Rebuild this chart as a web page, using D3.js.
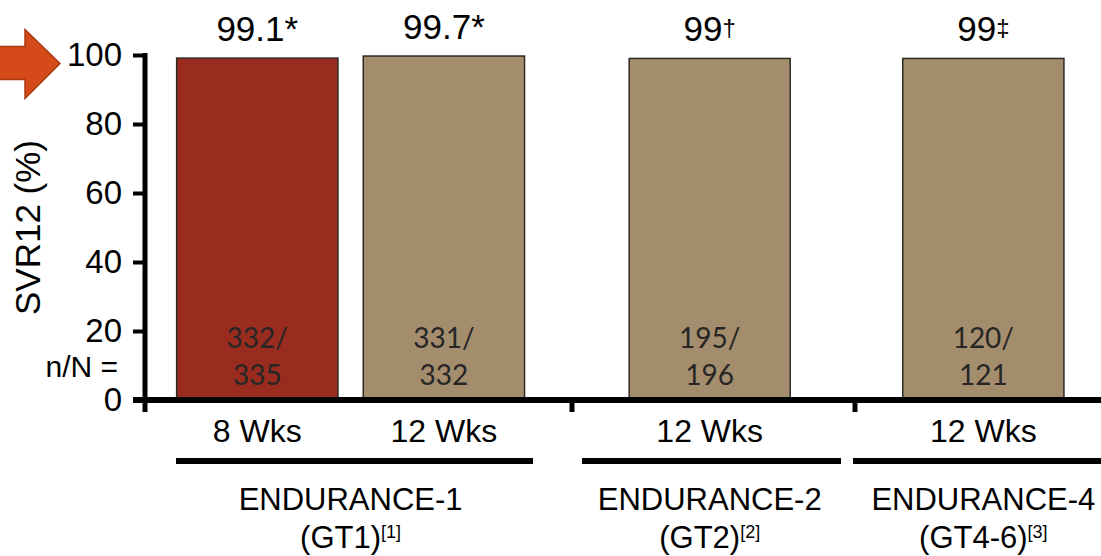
<!DOCTYPE html>
<html>
<head>
<meta charset="utf-8">
<script src="https://cdn.jsdelivr.net/npm/d3@7/dist/d3.min.js"></script>
<style>
  html, body { margin: 0; padding: 0; background: #fff; }
  svg { display: block; }
  text { font-family: "Liberation Sans", Arial, sans-serif; fill: #000; }
</style>
</head>
<body>
<svg id="chart" width="1101" height="556"></svg>
<script>
// ---- data ----
const studies    = ["ENDURANCE-1", "ENDURANCE-2", "ENDURANCE-4"];
const genotypes  = ["GT1", "GT2", "GT4-6"];
const references = ["1", "2", "3"];
const durations  = ["8 Wks", "12 Wks", "12 Wks", "12 Wks"];
const barStudy   = [0, 0, 1, 2];
const svr12      = [99.1, 99.7, 99, 99];
const footnotes  = ["*", "*", "\u2020", "\u2021"];
const responders = [332, 331, 195, 120];
const totals     = [335, 332, 196, 121];
const yTicks     = [0, 20, 40, 60, 80, 100];

// ---- layout ----
const W = 1101, H = 556;
const axisX = 145;
const groupLayout = [
  { x0: 145, x1: 572,  padInner: 0.1356, padOuter: 0.212, align: 0.40,  line: [176, 533] },
  { x0: 572, x1: 855,  padInner: 0,      padOuter: 0.379, align: 0.469, line: [582, 841] },
  { x0: 855, x1: 1101, padInner: 0,      padOuter: 0.263, align: 0.563, line: [853, 1101] }
];
const colors = ["#992b1f", "#a48d6c", "#a48d6c", "#a48d6c"];

const svg = d3.select("#chart");

const y = d3.scaleLinear().domain([0, 100]).range([400, 55]);

// one band scale per study, each spanning its own stretch of the x axis
const bands = groupLayout.map((g, gi) =>
  d3.scaleBand()
    .domain(d3.range(svr12.length).filter(i => barStudy[i] === gi))
    .range([g.x0, g.x1])
    .paddingInner(g.padInner)
    .paddingOuter(g.padOuter)
    .align(g.align)
);
const barX = i => bands[barStudy[i]](i);
const barW = i => bands[barStudy[i]].bandwidth();
const barC = i => barX(i) + barW(i) / 2;

// ---- bars ----
const idx = d3.range(svr12.length);
svg.append("g").selectAll("rect").data(idx).join("rect")
  .attr("x", barX)
  .attr("y", i => y(svr12[i]))
  .attr("width", barW)
  .attr("height", i => y(0) - y(svr12[i]))
  .attr("fill", i => colors[i])
  .attr("stroke", "#2e2a24")
  .attr("stroke-width", 1.5);

// value labels above the bars
const vl = svg.append("g").selectAll("text").data(idx).join("text")
  .attr("x", barC)
  .attr("y", i => y(svr12[i]) - 17)
  .attr("text-anchor", "middle")
  .style("font-size", "35px");
vl.append("tspan").text(i => String(svr12[i]));
vl.append("tspan")
  .text(i => footnotes[i])
  .style("font-size", i => footnotes[i] === "*" ? "35px" : "24px")
  .attr("dy", i => footnotes[i] === "*" ? 0 : -5);

// n/N inside the bars
const nl = svg.append("g").selectAll("text").data(idx).join("text")
  .attr("text-anchor", "middle")
  .style("font-family", "Lato, 'Open Sans', sans-serif")
  .style("font-size", "28px")
  .style("fill", "#262626");
nl.append("tspan").attr("x", barC).attr("y", 348).text(i => responders[i] + "/");
nl.append("tspan").attr("x", barC).attr("y", 385).text(i => totals[i]);

svg.append("text")
  .attr("x", 118).attr("y", 377)
  .attr("text-anchor", "end")
  .style("font-size", "30px")
  .text("n/N =");

// ---- y axis ----
const yAxis = svg.append("g")
  .attr("transform", `translate(${axisX},0)`)
  .call(d3.axisLeft(y).tickValues(yTicks).tickSize(12).tickPadding(11).tickSizeOuter(0));
yAxis.select(".domain").remove();
yAxis.selectAll(".tick line").attr("stroke", "#000").attr("stroke-width", 4);
yAxis.selectAll(".tick text")
  .style("font-family", "'Liberation Sans', Arial, sans-serif")
  .style("font-size", "33px")
  .attr("fill", "#000");

svg.append("line")
  .attr("x1", axisX).attr("x2", axisX)
  .attr("y1", y(100) - 2).attr("y2", y(0) + 12)
  .attr("stroke", "#000").attr("stroke-width", 5);

svg.append("text")
  .attr("transform", `translate(39.5,${(y(0) + y(100)) / 2}) rotate(-90)`)
  .attr("text-anchor", "middle")
  .style("font-size", "35px")
  .text("SVR12 (%)");

// ---- x axis ----
svg.append("line")
  .attr("x1", axisX - 12).attr("x2", W)
  .attr("y1", y(0)).attr("y2", y(0))
  .attr("stroke", "#000").attr("stroke-width", 6);

svg.append("g").selectAll("line")
  .data(groupLayout.slice(1))
  .join("line")
  .attr("x1", g => g.x0).attr("x2", g => g.x0)
  .attr("y1", y(0)).attr("y2", y(0) + 12)
  .attr("stroke", "#000").attr("stroke-width", 5);

// duration under each bar
svg.append("g").selectAll("text").data(idx).join("text")
  .attr("x", barC)
  .attr("y", 442)
  .attr("text-anchor", "middle")
  .style("font-size", "32px")
  .text(i => durations[i]);

// study brackets and names
const gIdx = d3.range(studies.length);
svg.append("g").selectAll("line").data(gIdx).join("line")
  .attr("x1", g => groupLayout[g].line[0])
  .attr("x2", g => groupLayout[g].line[1])
  .attr("y1", 461).attr("y2", 461)
  .attr("stroke", "#000").attr("stroke-width", 6);

const groupCenter = g => d3.mean(idx.filter(i => barStudy[i] === g), barC);

svg.append("g").selectAll("text").data(gIdx).join("text")
  .attr("x", groupCenter)
  .attr("y", 510)
  .attr("text-anchor", "middle")
  .style("font-size", "31px")
  .text(g => studies[g]);

const gl = svg.append("g").selectAll("text").data(gIdx).join("text")
  .attr("x", groupCenter)
  .attr("y", 548)
  .attr("text-anchor", "middle")
  .style("font-size", "31px");
gl.append("tspan").text(g => "(" + genotypes[g] + ")");
gl.append("tspan")
  .attr("dy", -10)
  .style("font-size", "18px")
  .text(g => "[" + references[g] + "]");

// ---- highlight arrow pointing at the 100% mark ----
const ay = y(100) + 8.5;
const arrow = [
  [-10, ay - 17], [25, ay - 17], [25, ay - 34], [60, ay],
  [25, ay + 35], [25, ay + 16], [-10, ay + 16]
];
svg.append("path")
  .attr("d", d3.line()(arrow) + "Z")
  .attr("fill", "#d44a18")
  .attr("stroke", "#aa3a12")
  .attr("stroke-width", 1.5);
</script>
</body>
</html>
